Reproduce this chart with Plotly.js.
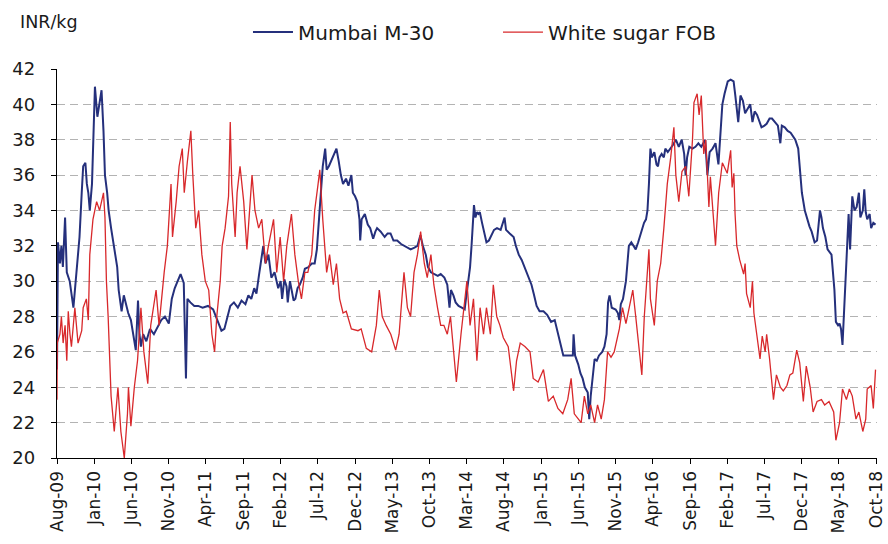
<!DOCTYPE html>
<html>
<head>
<meta charset="utf-8">
<script src="https://cdn.plot.ly/plotly-3.0.1.min.js"></script>
<style>html,body{margin:0;padding:0;background:#fff;}#chart{width:888px;height:544px;}</style>
</head>
<body>
<div id="chart"></div>
<script>
// Tick labels (every 5 months)
const tickDates = ['2009-08-01','2010-01-01','2010-06-01','2010-11-01','2011-04-01','2011-09-01','2012-02-01','2012-07-01','2012-12-01','2013-05-01','2013-10-01','2014-03-01','2014-08-01','2015-01-01','2015-06-01','2015-11-01','2016-04-01','2016-09-01','2017-02-01','2017-07-01','2017-12-01','2018-05-01','2018-10-01'];
const tickLabels = ['Aug-09','Jan-10','Jun-10','Nov-10','Apr-11','Sep-11','Feb-12','Jul-12','Dec-12','May-13','Oct-13','Mar-14','Aug-14','Jan-15','Jun-15','Nov-15','Apr-16','Sep-16','Feb-17','Jul-17','Dec-17','May-18','Oct-18'];

// Mumbai M-30 (INR/kg)
const mumbaiDates = ['2009-08-01','2009-08-05','2009-08-13','2009-08-19','2009-08-25','2009-09-03','2009-09-10','2009-09-22','2009-10-07','2009-10-19','2009-11-01','2009-11-10','2009-11-16','2009-11-25','2009-12-01','2009-12-07','2009-12-13','2009-12-22','2010-01-03','2010-01-13','2010-01-22','2010-01-30','2010-02-07','2010-02-13','2010-02-22','2010-02-28','2010-03-10','2010-03-19','2010-03-25','2010-04-04','2010-04-10','2010-04-22','2010-05-01','2010-05-10','2010-05-19','2010-05-30','2010-06-10','2010-06-19','2010-06-28','2010-07-04','2010-07-10','2010-07-19','2010-08-01','2010-08-16','2010-09-01','2010-09-16','2010-10-01','2010-10-16','2010-11-01','2010-11-13','2010-11-25','2010-12-07','2010-12-19','2011-01-01','2011-01-10','2011-01-16','2011-01-28','2011-02-13','2011-03-01','2011-03-19','2011-04-10','2011-05-01','2011-05-19','2011-06-04','2011-06-16','2011-06-28','2011-07-10','2011-07-25','2011-08-10','2011-08-25','2011-09-10','2011-09-22','2011-10-04','2011-10-16','2011-10-25','2011-11-04','2011-11-13','2011-11-22','2011-12-01','2011-12-13','2011-12-25','2012-01-07','2012-01-22','2012-02-01','2012-02-07','2012-02-16','2012-02-25','2012-03-01','2012-03-10','2012-03-16','2012-03-25','2012-04-01','2012-04-10','2012-04-19','2012-05-01','2012-05-10','2012-05-25','2012-06-07','2012-06-19','2012-06-28','2012-07-07','2012-07-16','2012-07-22','2012-08-01','2012-08-07','2012-08-16','2012-08-25','2012-09-07','2012-09-16','2012-09-25','2012-10-04','2012-10-13','2012-10-25','2012-11-04','2012-11-16','2012-11-22','2012-12-01','2012-12-10','2012-12-19','2012-12-22','2012-12-28','2013-01-10','2013-01-22','2013-02-01','2013-02-13','2013-02-22','2013-03-01','2013-03-16','2013-04-01','2013-04-13','2013-04-25','2013-05-07','2013-05-22','2013-06-07','2013-06-22','2013-07-04','2013-07-16','2013-08-01','2013-08-13','2013-08-25','2013-09-04','2013-09-16','2013-09-25','2013-10-07','2013-10-19','2013-11-04','2013-11-16','2013-12-01','2013-12-13','2013-12-22','2013-12-28','2014-01-07','2014-01-16','2014-01-28','2014-02-10','2014-02-22','2014-03-01','2014-03-10','2014-03-16','2014-03-22','2014-03-28','2014-04-01','2014-04-07','2014-04-13','2014-04-19','2014-04-25','2014-05-04','2014-05-13','2014-05-22','2014-06-01','2014-06-13','2014-06-22','2014-07-04','2014-07-19','2014-08-04','2014-08-10','2014-08-25','2014-09-10','2014-09-19','2014-10-01','2014-10-13','2014-10-25','2014-11-07','2014-11-22','2014-12-01','2014-12-13','2014-12-25','2015-01-10','2015-01-25','2015-02-10','2015-02-25','2015-03-07','2015-03-16','2015-03-25','2015-04-01','2015-04-16','2015-05-01','2015-05-10','2015-05-13','2015-05-19','2015-06-01','2015-06-10','2015-06-19','2015-06-28','2015-07-10','2015-07-16','2015-07-22','2015-08-01','2015-08-07','2015-08-16','2015-08-25','2015-09-07','2015-09-16','2015-09-25','2015-10-01','2015-10-07','2015-10-16','2015-11-01','2015-11-10','2015-11-16','2015-11-22','2015-12-01','2015-12-13','2015-12-19','2015-12-25','2016-01-04','2016-01-13','2016-01-22','2016-02-01','2016-02-13','2016-02-25','2016-03-04','2016-03-10','2016-03-16','2016-03-22','2016-03-28','2016-04-07','2016-04-16','2016-04-22','2016-04-28','2016-05-07','2016-05-16','2016-05-22','2016-06-01','2016-06-13','2016-06-22','2016-07-04','2016-07-16','2016-07-28','2016-08-07','2016-08-13','2016-08-19','2016-08-28','2016-09-10','2016-09-22','2016-10-04','2016-10-16','2016-11-01','2016-11-10','2016-11-19','2016-12-01','2016-12-13','2016-12-25','2017-01-01','2017-01-10','2017-01-19','2017-02-01','2017-02-13','2017-02-25','2017-03-04','2017-03-16','2017-03-25','2017-04-04','2017-04-13','2017-04-25','2017-05-04','2017-05-13','2017-05-22','2017-06-01','2017-06-10','2017-06-19','2017-07-01','2017-07-10','2017-07-22','2017-08-01','2017-08-13','2017-08-25','2017-09-04','2017-09-10','2017-09-22','2017-10-04','2017-10-16','2017-11-04','2017-11-16','2017-11-25','2017-12-01','2017-12-13','2017-12-22','2018-01-01','2018-01-10','2018-01-16','2018-01-22','2018-02-01','2018-02-07','2018-02-13','2018-02-19','2018-02-25','2018-03-07','2018-03-16','2018-04-01','2018-04-07','2018-04-13','2018-04-19','2018-04-28','2018-05-04','2018-05-10','2018-05-16','2018-05-22','2018-05-28','2018-06-04','2018-06-10','2018-06-16','2018-06-25','2018-07-04','2018-07-13','2018-07-22','2018-07-28','2018-08-07','2018-08-13','2018-08-19','2018-08-25','2018-09-04','2018-09-10','2018-09-19','2018-09-28'];
const mumbaiValues = [25.0,32.2,31.0,32.0,30.8,33.6,30.5,30.0,28.5,30.5,32.5,35.0,36.5,36.7,35.5,35.0,34.0,35.5,41.0,39.3,40.2,40.8,38.5,36.0,35.0,34.0,33.0,32.2,31.5,30.8,29.5,28.3,29.2,28.6,28.2,27.8,26.8,26.1,28.9,27.0,26.3,27.0,26.6,27.3,27.0,27.4,27.8,28.0,27.6,29.0,29.6,30.0,30.4,29.9,24.5,29.0,28.8,28.6,28.6,28.5,28.6,28.4,27.8,27.2,27.3,28.0,28.6,28.8,28.5,28.9,28.7,29.2,29.0,29.6,29.3,30.3,31.3,32.0,31.0,31.5,30.2,30.5,29.6,30.0,29.0,30.1,29.7,28.8,30.0,29.6,28.9,29.0,29.6,29.8,30.2,30.7,30.8,31.0,31.0,31.8,33.5,35.5,36.5,37.5,36.3,36.5,36.8,37.3,37.5,36.8,36.0,35.5,35.8,35.4,36.0,35.0,34.8,34.5,33.5,32.3,33.5,33.8,33.2,33.0,32.4,32.8,33.0,32.8,32.5,32.7,32.7,32.3,32.3,32.1,32.0,31.9,31.8,31.9,32.0,32.6,32.0,31.5,30.8,30.5,30.4,30.3,30.4,30.2,29.8,28.5,29.5,29.2,28.8,28.6,28.5,28.4,29.2,30.0,30.8,32.0,33.5,34.3,33.6,33.9,33.8,33.9,33.3,32.8,32.2,32.3,32.7,32.9,33.0,32.9,33.6,32.9,32.7,32.5,32.0,31.5,31.2,30.8,30.4,29.8,29.3,28.6,28.3,28.3,28.1,27.7,27.8,27.2,26.8,26.2,25.8,25.8,25.8,25.8,27.0,25.8,25.3,24.8,24.5,24.0,23.7,22.2,23.5,25.0,25.6,25.5,25.8,26.0,26.3,27.0,28.8,29.2,28.5,28.4,28.2,27.8,28.7,29.0,30.0,31.0,32.0,32.2,32.0,31.8,32.2,32.8,33.3,33.5,34.0,35.5,37.5,37.0,37.3,36.6,36.5,37.0,37.2,37.0,37.5,37.3,37.5,37.7,38.0,37.6,38.0,37.2,36.0,37.0,37.6,37.5,37.6,37.8,37.6,38.0,36.0,37.3,37.5,37.8,36.6,38.0,40.0,40.6,41.3,41.4,41.3,40.5,39.0,40.5,40.2,39.5,39.8,40.0,39.0,39.6,39.4,39.0,38.7,38.8,38.9,39.2,39.2,39.0,38.8,37.8,38.8,38.7,38.5,38.4,38.0,37.5,36.2,35.0,34.0,33.5,33.1,32.8,32.4,32.2,32.3,33.0,34.0,33.6,33.0,32.5,31.8,31.5,30.5,29.5,27.7,27.5,27.6,27.3,26.4,28.0,29.5,32.0,33.8,31.8,34.8,34.0,34.2,35.0,33.6,34.0,35.2,33.9,33.5,33.8,33.0,33.3,33.2];

// White sugar FOB (INR/kg)
const sugarDates = ['2009-08-01','2009-08-02','2009-08-13','2009-08-19','2009-08-26','2009-09-03','2009-09-10','2009-09-16','2009-09-23','2009-09-29','2009-10-13','2009-10-26','2009-11-10','2009-11-16','2009-11-29','2009-12-07','2009-12-13','2009-12-26','2010-01-10','2010-01-22','2010-02-07','2010-02-13','2010-02-19','2010-02-26','2010-03-10','2010-03-23','2010-04-07','2010-04-19','2010-05-03','2010-05-16','2010-05-20','2010-05-30','2010-06-13','2010-06-26','2010-07-10','2010-07-22','2010-08-07','2010-08-19','2010-09-10','2010-09-22','2010-10-13','2010-10-26','2010-11-10','2010-11-16','2010-12-01','2010-12-13','2010-12-26','2011-01-03','2011-01-16','2011-01-30','2011-02-07','2011-02-19','2011-03-03','2011-03-16','2011-03-30','2011-04-13','2011-04-26','2011-05-07','2011-05-16','2011-05-30','2011-06-07','2011-06-19','2011-07-03','2011-07-10','2011-07-16','2011-07-30','2011-08-07','2011-08-19','2011-09-03','2011-09-16','2011-09-22','2011-10-07','2011-10-19','2011-11-03','2011-11-16','2011-12-01','2011-12-13','2012-01-03','2012-01-16','2012-01-30','2012-02-13','2012-02-26','2012-03-16','2012-03-30','2012-04-13','2012-04-26','2012-05-10','2012-05-22','2012-06-07','2012-06-19','2012-07-03','2012-07-10','2012-07-22','2012-08-07','2012-08-19','2012-09-03','2012-09-16','2012-09-29','2012-10-13','2012-10-26','2012-11-16','2012-12-13','2012-12-26','2013-01-16','2013-02-07','2013-02-26','2013-03-10','2013-03-22','2013-04-07','2013-04-26','2013-05-16','2013-05-30','2013-06-19','2013-07-03','2013-07-16','2013-07-30','2013-08-13','2013-08-26','2013-09-10','2013-09-22','2013-10-07','2013-10-19','2013-11-03','2013-11-16','2013-11-29','2013-12-13','2013-12-26','2014-01-10','2014-01-19','2014-02-07','2014-02-26','2014-03-03','2014-03-16','2014-03-30','2014-04-13','2014-04-26','2014-05-10','2014-05-22','2014-06-07','2014-06-19','2014-07-03','2014-07-16','2014-07-30','2014-08-19','2014-09-10','2014-09-22','2014-10-07','2014-10-26','2014-11-16','2014-11-29','2014-12-19','2015-01-10','2015-01-30','2015-02-19','2015-03-10','2015-03-30','2015-04-19','2015-05-03','2015-05-16','2015-06-13','2015-06-26','2015-07-10','2015-07-22','2015-08-07','2015-08-19','2015-09-03','2015-09-16','2015-09-29','2015-10-13','2015-10-26','2015-11-16','2015-11-29','2015-12-13','2015-12-26','2016-01-10','2016-01-22','2016-02-07','2016-02-16','2016-02-26','2016-03-10','2016-03-16','2016-03-22','2016-04-07','2016-04-19','2016-05-03','2016-05-16','2016-05-30','2016-06-13','2016-06-26','2016-07-04','2016-07-16','2016-07-29','2016-08-13','2016-08-26','2016-09-10','2016-09-16','2016-09-29','2016-10-07','2016-10-16','2016-10-26','2016-11-03','2016-11-10','2016-11-16','2016-11-22','2016-12-07','2016-12-13','2016-12-26','2017-01-10','2017-01-30','2017-02-13','2017-02-19','2017-02-26','2017-03-03','2017-03-10','2017-03-22','2017-04-07','2017-04-13','2017-04-19','2017-05-04','2017-05-13','2017-05-19','2017-06-01','2017-06-13','2017-06-22','2017-07-04','2017-07-10','2017-07-22','2017-08-07','2017-08-19','2017-09-04','2017-09-16','2017-10-01','2017-10-13','2017-10-25','2017-11-10','2017-11-22','2017-12-07','2017-12-19','2018-01-04','2018-01-16','2018-02-01','2018-02-19','2018-03-04','2018-03-22','2018-04-10','2018-04-19','2018-05-04','2018-05-16','2018-06-01','2018-06-13','2018-06-25','2018-07-10','2018-07-22','2018-08-07','2018-08-19','2018-08-25','2018-09-10','2018-09-19','2018-09-28'];
const sugarValues = [23.3,26.5,27.0,28.0,26.5,27.5,25.5,28.3,27.0,26.3,28.5,26.5,27.2,28.5,29.0,27.8,31.5,33.5,34.5,34.0,35.0,33.6,30.0,28.0,23.5,21.5,24.0,21.5,20.0,22.5,24.0,21.8,24.0,25.5,28.5,26.0,24.2,27.5,29.5,27.5,30.5,32.0,35.5,32.5,34.5,36.5,37.5,35.0,36.8,38.5,36.0,33.0,34.0,31.5,30.0,29.5,27.0,26.0,28.0,30.0,32.0,33.0,34.8,39.0,35.5,32.5,35.0,36.5,34.5,31.8,33.0,36.0,34.0,33.0,33.5,31.0,32.0,33.5,30.5,32.5,30.0,32.0,33.8,31.5,30.0,29.0,30.5,30.5,31.5,34.0,35.5,36.3,33.5,30.5,31.5,29.8,31.0,29.0,28.2,28.3,27.3,27.2,27.3,26.2,26.0,27.5,29.5,28.0,27.5,27.0,26.1,27.0,30.5,28.5,28.0,30.5,31.5,32.8,31.0,30.2,31.5,29.8,28.5,27.5,27.5,27.0,28.0,25.5,24.3,27.0,29.5,30.0,27.5,29.0,25.5,28.5,27.0,28.5,27.0,29.8,28.0,27.5,26.8,26.3,23.8,25.5,26.5,26.3,26.0,24.5,24.3,25.0,23.2,23.5,22.8,22.5,23.3,24.5,22.5,22.0,23.5,22.5,23.0,22.0,23.0,22.2,23.3,26.0,25.7,26.0,27.3,28.5,27.6,28.5,29.5,28.0,26.0,24.7,28.0,30.5,31.8,29.0,27.5,30.0,31.0,33.0,35.5,37.0,38.7,36.0,34.5,36.2,36.5,34.8,38.0,40.1,40.6,39.4,40.5,37.2,38.0,36.0,34.2,35.9,32.7,32.0,35.0,36.7,36.1,37.4,35.3,36.1,33.8,32.0,31.2,30.4,31.0,29.3,28.5,30.0,28.2,26.9,25.6,26.9,26.0,27.0,25.6,23.3,24.7,24.0,23.8,24.1,24.7,24.8,26.1,25.4,23.2,25.2,24.0,22.6,23.2,23.3,23.0,23.2,22.6,21.0,22.0,23.9,23.3,23.9,23.5,22.2,22.6,21.5,22.2,23.9,24.1,22.8,25.0];

const seriesNames = ['Mumbai M-30','White sugar FOB'];

const traces = [
  {x: mumbaiDates, y: mumbaiValues, name: seriesNames[0], type:'scatter', mode:'lines',
   line:{color:'#25307c', width:2}},
  {x: sugarDates, y: sugarValues, name: seriesNames[1], type:'scatter', mode:'lines',
   line:{color:'#d8282b', width:1.3}}
];

const layout = {
  width: 888, height: 544,
  margin: {l:57, r:11, t:69, b:86, pad:0},
  paper_bgcolor:'#ffffff', plot_bgcolor:'#ffffff',
  font: {family:'DejaVu Sans, sans-serif', color:'#1a1a1a'},
  showlegend: true,
  xaxis: {
    type:'date', range:['2009-08-01','2018-10-04'],
    tickmode:'array', tickvals: tickDates, ticktext: tickLabels,
    tickangle:-90, ticks:'outside', ticklen:5, tickcolor:'#000', tickwidth:1,
    showline:true, linecolor:'#000', linewidth:1.2, showgrid:false, zeroline:false,
    tickfont:{size:17, color:'#1a1a1a'}, ticklabeloverflow:'allow', fixedrange:true
  },
  yaxis: {
    range:[20,42], tickmode:'linear', tick0:20, dtick:2,
    ticks:'outside', ticklen:5, tickcolor:'#000', tickwidth:1,
    showline:true, linecolor:'#000', linewidth:1.2,
    showgrid:true, gridcolor:'#b3b3b3', gridwidth:1, griddash:'8px,5px', zeroline:false,
    tickfont:{size:18, color:'#1a1a1a'}, ticklabelstandoff:12, fixedrange:true
  },
  legend: {
    orientation:'h', x:0.2329, xanchor:'left', y:1.095, yanchor:'middle',
    font:{size:20, color:'#1a1a1a'}, bgcolor:'rgba(0,0,0,0)',
    entrywidth:195, entrywidthmode:'pixels', tracegroupgap:0, itemwidth:40
  },
  annotations: [
    {text:'INR/kg', xref:'paper', yref:'paper', x:-0.0476, y:1.121,
     xanchor:'left', yanchor:'middle', showarrow:false,
     font:{size:17.5, color:'#1a1a1a'}}
  ]
};

Plotly.newPlot('chart', traces, layout, {displayModeBar:false, staticPlot:true});
</script>
</body>
</html>
